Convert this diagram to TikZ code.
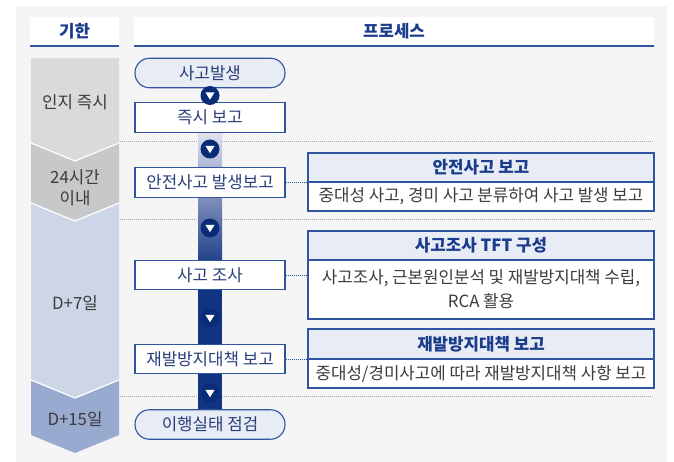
\documentclass[tikz,border=0pt]{standalone}
\usepackage{fontspec}
\setmainfont{Noto Sans CJK KR}
\definecolor{bgray}{RGB}{245,245,245}
\definecolor{bline}{RGB}{47,84,160}
\definecolor{navy}{RGB}{16,52,130}
\definecolor{cnavy}{RGB}{10,44,118}
\definecolor{hfill}{RGB}{232,236,245}
\definecolor{htext}{RGB}{27,60,140}
\definecolor{ptext}{RGB}{42,62,122}
\definecolor{gtext}{RGB}{60,60,60}
\definecolor{chA}{RGB}{217,218,219}
\definecolor{chB}{RGB}{199,200,201}
\definecolor{chC}{RGB}{205,214,231}
\definecolor{chD}{RGB}{152,170,207}
\definecolor{lav}{RGB}{226,225,239}
\definecolor{sep}{RGB}{165,165,165}
\tikzset{
  txt/.style={font=\fontsize{16.8}{19}\selectfont},
  pbox/.style={txt, draw=bline, line width=1.1pt, fill=white, text=ptext, minimum width=150pt, minimum height=29.5pt, inner sep=0pt},
  rbox/.style={pbox, fill=hfill, rounded corners=14.5pt},
  hbox/.style={draw=bline, line width=1.1pt, fill=hfill, minimum width=346pt, inner sep=0pt, text=htext, font=\fontsize{16.8}{19}\selectfont\bfseries},
  bbox/.style={draw=bline, line width=1.1pt, fill=white, minimum width=346pt, inner sep=0pt, text=gtext, align=center, font=\fontsize{16.8}{24}\selectfont},
  chev/.style={draw=white, line width=1.2pt},
  ltxt/.style={text=gtext, align=center, font=\fontsize{16.8}{21}\selectfont},
  septxt/.style={draw=sep, line width=0.8pt, dash pattern=on 1pt off 1pt},
  conn/.style={draw=bline, line width=0.9pt, dash pattern=on 1pt off 1pt},
  circ/.style={circle, fill=cnavy, minimum size=19pt, inner sep=0pt},
  hdr/.style={fill=white, inner sep=0pt, text=htext, font=\fontsize{16.8}{19}\selectfont\bfseries}
}
\begin{document}
\begin{tikzpicture}[x=1pt,y=-1pt]
\useasboundingbox (0,0) rectangle (674,462);
\fill[white] (0,0) rectangle (674,462);
\fill[bgray] (16,6) rectangle (667,462);
% headers
\node[hdr, minimum width=89pt, minimum height=29pt] (h1) at (74.5,31.5) {기한};
\node[hdr, minimum width=520pt, minimum height=29pt] (h2) at (394,31.5) {프로세스};
\draw[bline, line width=1.4pt] (h1.south west) -- (h1.south east);
\draw[bline, line width=1.4pt] (h2.south west) -- (h2.south east);
% chevrons
\fill[chD] (31,380) -- (75,398) -- (119,380) -- (119,435) -- (75,453) -- (31,435) -- cycle;
\fill[chC] (31,203) -- (75,221) -- (119,203) -- (119,380) -- (75,398) -- (31,380) -- cycle;
\fill[chB] (31,143) -- (75,161) -- (119,143) -- (119,203) -- (75,221) -- (31,203) -- cycle;
\fill[chA] (31,58) -- (119,58) -- (119,143) -- (75,161) -- (31,143) -- cycle;
\draw[chev] (31,143) -- (75,161) -- (119,143);
\draw[chev] (31,203) -- (75,221) -- (119,203);
\draw[chev] (31,380) -- (75,398) -- (119,380);
\node[ltxt] (l1) at (75,102) {인지 즉시};
\node[ltxt] (l2) at (75,188) {24시간\\이내};
\node[ltxt] (l3) at (75,303) {D+7일};
\node[ltxt] (l4) at (75,419) {D+15일};
% separators
\draw[septxt] (120,141) -- (654,141);
\draw[septxt] (120,219) -- (654,219);
\draw[septxt] (120,396) -- (654,396);
% central bar
\shade[top color=lav, bottom color=navy] (198,132) rectangle (222,272);
\fill[navy] (198,271.5) rectangle (222,410);
% process boxes
\node[rbox] (p0) at (210,73) {사고발생};
\node[pbox] (p1) at (210,117.5) {즉시 보고};
\node[pbox] (p2) at (210,182.5) {안전사고 발생보고};
\node[pbox] (p3) at (210,275) {사고 조사};
\node[pbox] (p4) at (210,359) {재발방지대책 보고};
\node[rbox] (p5) at (210,424.5) {이행실태 점검};
% arrow circles
\foreach \n/\y in {a1/95.5, a2/149, a3/228, a4/318, a5/393} {
  \node[circ] (\n) at (210,\y) {};
  \fill[white] ([xshift=-4.6pt,yshift=3.2pt]\n.center) -- ([xshift=4.6pt,yshift=3.2pt]\n.center) -- ([yshift=-4.2pt]\n.center) -- cycle;
}
% right boxes
\node[hbox, minimum height=29pt] (b1h) at (481,167.5) {안전사고 보고};
\node[bbox, minimum height=29pt] (b1b) at (481,196.5) {중대성 사고, 경미 사고 분류하여 사고 발생 보고};
\node[hbox, minimum height=29pt] (b2h) at (481,245.5) {사고조사 TFT 구성};
\node[bbox, minimum height=59pt] (b2b) at (481,289.5) {사고조사, 근본원인분석 및 재발방지대책 수립,\\RCA 활용};
\node[hbox, minimum height=30pt] (b3h) at (481,344) {재발방지대책 보고};
\node[bbox, minimum height=29pt] (b3b) at (481,373.5) {중대성/경미사고에 따라 재발방지대책 사항 보고};
% connectors
\draw[conn] (p2.east) -- (p2.east -| b1b.west) coordinate (c1);
\draw[conn] (p3.east) -- (p3.east -| b2b.west) coordinate (c2);
\draw[conn] (p4.east) -- (p4.east -| b3b.west) coordinate (c3);
\foreach \c in {c1,c2,c3} \fill[bline] (\c) circle (1.2pt);
\end{tikzpicture}
\end{document}
